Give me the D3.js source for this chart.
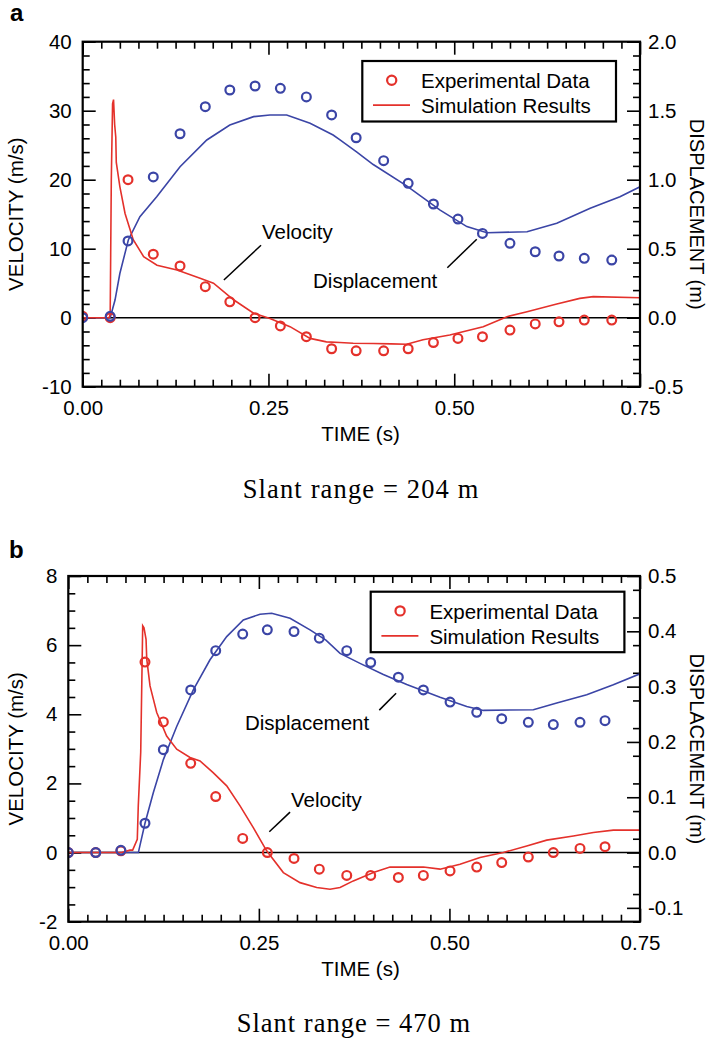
<!DOCTYPE html>
<html>
<head>
<meta charset="utf-8">
<script src="https://cdn.jsdelivr.net/npm/d3@7"></script>
<style>
  body { margin: 0; background: #fff; }
  svg { display: block; }
  text { font-family: "Liberation Sans", Arial, Helvetica, sans-serif; fill: #000; }
</style>
</head>
<body>
<svg id="fig" width="709" height="1045"></svg>
<script>
// ---------- shared ----------
const timeMajorTicks = [0, 0.25, 0.5, 0.75];
const legendLabels = ["Experimental Data", "Simulation Results"];

// ---------- panel a : slant range 204 m ----------
const aCaption = "Slant range = 204 m";
const aVelMajorTicks = [-10, 0, 10, 20, 30, 40];
const aDispMajorTicks = [-0.5, 0, 0.5, 1.0, 1.5, 2.0];
const aExpTime = [0, 0.037, 0.061, 0.095, 0.131, 0.165, 0.198, 0.232, 0.266, 0.301, 0.335,
                  0.368, 0.405, 0.438, 0.472, 0.505, 0.538, 0.575, 0.609, 0.641, 0.675, 0.712];
const aExpVelocity = [0.2, 0, 20.0, 9.2, 7.5, 4.5, 2.3, 0.0, -1.2, -2.75, -4.5,
                      -4.8, -4.8, -4.5, -3.6, -3.0, -2.75, -1.8, -0.9, -0.6, -0.35, -0.35];
const aExpDisplacement = [0, 0.01, 0.556, 1.02, 1.333, 1.529, 1.65, 1.679, 1.662, 1.60, 1.469,
                          1.304, 1.138, 0.974, 0.824, 0.715, 0.611, 0.539, 0.478, 0.447, 0.430, 0.418];
const aSimVelocity = [[0, 0], [0.0355, 0], [0.037, 0.5], [0.0385, 20], [0.0402, 31], [0.0415, 31.6],
  [0.043, 28], [0.0445, 26.2], [0.0452, 22.5], [0.050, 19], [0.057, 15.1], [0.068, 11.3],
  [0.082, 8.85], [0.100, 7.6], [0.127, 6.9], [0.158, 5.7], [0.176, 5.0], [0.203, 2.6],
  [0.230, 0.65], [0.252, -0.1], [0.279, -1.3], [0.306, -3.0], [0.328, -3.5], [0.346, -3.6],
  [0.364, -3.7], [0.391, -3.75], [0.415, -3.8], [0.436, -3.85], [0.458, -3.2], [0.494, -2.5],
  [0.539, -1.3], [0.571, 0.15], [0.598, 0.87], [0.638, 2.0], [0.669, 2.8], [0.687, 3.05], [0.75, 2.9]];
const aSimDisplacement = [[0, 0], [0.037, 0], [0.0435, 0.128], [0.050, 0.32], [0.0614, 0.563],
  [0.077, 0.732], [0.0996, 0.877], [0.131, 1.094], [0.167, 1.288], [0.198, 1.396], [0.230, 1.457],
  [0.252, 1.469], [0.2745, 1.469], [0.306, 1.409], [0.337, 1.324], [0.3463, 1.288], [0.369, 1.20],
  [0.391, 1.11], [0.436, 0.955], [0.481, 0.78], [0.517, 0.66], [0.544, 0.616], [0.598, 0.623],
  [0.638, 0.684], [0.683, 0.793], [0.723, 0.877], [0.75, 0.949]];

// ---------- panel b : slant range 470 m ----------
const bCaption = "Slant range = 470 m";
const bVelMajorTicks = [-2, 0, 2, 4, 6, 8];
const bDispMajorTicks = [-0.1, 0, 0.1, 0.2, 0.3, 0.4, 0.5];
const bExpTime = [0, 0.036, 0.069, 0.1006, 0.1247, 0.1606, 0.1934, 0.2288, 0.2611, 0.2961, 0.3293,
                  0.3653, 0.3967, 0.433, 0.4658, 0.5008, 0.5358, 0.5686, 0.6035, 0.6363, 0.6713, 0.7041];
const bExpVelocity = [0, 0, 0.05, 5.51, 3.78, 2.58, 1.62, 0.41, 0, -0.17, -0.48,
                      -0.66, -0.66, -0.72, -0.66, -0.53, -0.42, -0.29, -0.13, 0, 0.12, 0.17];
const bExpDisplacement = [0, 0, 0.004, 0.053, 0.186, 0.294, 0.365, 0.395, 0.4026, 0.3995, 0.3876,
                          0.365, 0.3436, 0.317, 0.294, 0.272, 0.2535, 0.242, 0.2355, 0.2313, 0.2355, 0.2385];
const bSimVelocity = [[0, 0], [0.070, 0], [0.0809, 0.07], [0.0844, 0.07], [0.0905, 0.38], [0.0918, 1.35],
  [0.095, 2.9], [0.0976, 6.56], [0.0993, 6.5], [0.102, 6.17], [0.1029, 5.6], [0.1072, 4.82],
  [0.116, 4.05], [0.129, 3.37], [0.1422, 2.99], [0.1597, 2.75], [0.1728, 2.65], [0.190, 2.31],
  [0.2078, 1.93], [0.2253, 1.35], [0.2427, 0.72], [0.2602, 0.05], [0.2821, -0.58], [0.304, -0.87],
  [0.3259, -1.01], [0.3433, -1.06], [0.3565, -1.01], [0.3739, -0.82], [0.4002, -0.58], [0.422, -0.42],
  [0.4658, -0.42], [0.4877, -0.48], [0.5139, -0.34], [0.5401, -0.14], [0.5707, 0], [0.6014, 0.19],
  [0.6276, 0.36], [0.6626, 0.48], [0.6888, 0.58], [0.715, 0.65], [0.75, 0.65]];
const bSimDisplacement = [[0, 0], [0.0919, 0], [0.1006, 0.053], [0.1115, 0.108], [0.1247, 0.168],
  [0.1422, 0.228], [0.164, 0.294], [0.1859, 0.3485], [0.2078, 0.3905], [0.2296, 0.4206],
  [0.2515, 0.431], [0.2668, 0.4327], [0.2909, 0.4237], [0.3171, 0.4026], [0.338, 0.384],
  [0.3565, 0.36], [0.3827, 0.342], [0.4133, 0.322], [0.444, 0.304], [0.4877, 0.281],
  [0.5227, 0.264], [0.5445, 0.257], [0.6101, 0.2583], [0.6408, 0.2704], [0.6801, 0.2854],
  [0.715, 0.3034], [0.75, 0.3232]];

// ---------- styling ----------
const RED = "#e4312b";
const BLUE = "#3b45a6";
const FONT = 20.5;
const MAJOR = 13, MINOR = 7;

const svg = d3.select("#fig");

function range(a, b, step) {
  const n = Math.round((b - a) / step);
  return d3.range(n + 1).map(i => +(a + i * step).toFixed(6));
}

function drawPanel(p) {
  const x = d3.scaleLinear().domain([0, 0.75]).range([p.left, p.right]);
  const yV = d3.scaleLinear().domain(p.velDomain).range([p.bottom, p.top]);
  const yD = d3.scaleLinear().domain(p.dispDomain).range([p.bottom, p.top]);
  const g = svg.append("g");
  const clipId = "clip-" + p.key;
  svg.append("clipPath").attr("id", clipId).append("rect")
    .attr("x", p.left).attr("y", p.top).attr("width", p.right - p.left).attr("height", p.bottom - p.top);

  const style = sel => {
    sel.select(".domain").remove();
    sel.attr("font-family", null).attr("font-size", null);
    sel.selectAll(".tick line").attr("stroke", "#000").attr("stroke-width", 1.6);
    sel.selectAll(".tick text").attr("font-size", FONT);
  };
  const minorX = range(0, 0.75, 0.025).filter(v => !timeMajorTicks.some(m => Math.abs(m - v) < 1e-6));
  const fmtX = d => d.toFixed(2);

  // x axes (bottom with labels, top ticks only) — ticks point inward
  g.append("g").attr("transform", `translate(0,${p.bottom})`)
    .call(d3.axisBottom(x).tickValues(minorX).tickSize(-MINOR).tickFormat("")).call(style);
  g.append("g").attr("transform", `translate(0,${p.bottom})`)
    .call(d3.axisBottom(x).tickValues(timeMajorTicks).tickSize(-MAJOR).tickPadding(14).tickFormat(fmtX)).call(style);
  g.append("g").attr("transform", `translate(0,${p.top})`)
    .call(d3.axisTop(x).tickValues(minorX).tickSize(-MINOR).tickFormat("")).call(style);
  g.append("g").attr("transform", `translate(0,${p.top})`)
    .call(d3.axisTop(x).tickValues(timeMajorTicks).tickSize(-MAJOR).tickFormat("")).call(style);

  // velocity axis (left)
  const vMinor = range(p.velDomain[0], p.velDomain[1], p.velMinorStep)
    .filter(v => !p.velTicks.some(m => Math.abs(m - v) < 1e-6));
  g.append("g").attr("transform", `translate(${p.left},0)`)
    .call(d3.axisLeft(yV).tickValues(vMinor).tickSize(-MINOR).tickFormat("")).call(style);
  g.append("g").attr("transform", `translate(${p.left},0)`)
    .call(d3.axisLeft(yV).tickValues(p.velTicks).tickSize(-MAJOR).tickPadding(11).tickFormat(d => String(d))).call(style);

  // displacement axis (right)
  const dMinor = range(p.dispDomain[0], p.dispDomain[1], p.dispMinorStep)
    .filter(v => !p.dispTicks.some(m => Math.abs(m - v) < 1e-6))
    .filter(v => v >= p.dispDomain[0] - 1e-9 && v <= p.dispDomain[1] + 1e-9);
  g.append("g").attr("transform", `translate(${p.right},0)`)
    .call(d3.axisRight(yD).tickValues(dMinor).tickSize(-MINOR).tickFormat("")).call(style);
  g.append("g").attr("transform", `translate(${p.right},0)`)
    .call(d3.axisRight(yD).tickValues(p.dispTicks).tickSize(-MAJOR).tickPadding(8).tickFormat(d => d.toFixed(1))).call(style);

  // zero reference line
  g.append("line").attr("x1", p.left).attr("x2", p.right)
    .attr("y1", yV(0)).attr("y2", yV(0)).attr("stroke", "#000").attr("stroke-width", 1.6);

  // simulation curves
  const plot = g.append("g").attr("clip-path", `url(#${clipId})`);
  plot.append("path").datum(p.simDisp)
    .attr("d", d3.line().x(d => x(d[0])).y(d => yD(d[1])))
    .attr("fill", "none").attr("stroke", BLUE).attr("stroke-width", 1.6);
  plot.append("path").datum(p.simVel)
    .attr("d", d3.line().x(d => x(d[0])).y(d => yV(d[1])))
    .attr("fill", "none").attr("stroke", RED).attr("stroke-width", 1.6);

  // experimental data
  plot.append("g").selectAll("circle").data(p.expTime.map((t, i) => [t, p.expVel[i]])).join("circle")
    .attr("cx", d => x(d[0])).attr("cy", d => yV(d[1])).attr("r", 4.4)
    .attr("fill", "none").attr("stroke", RED).attr("stroke-width", 2.2);
  plot.append("g").selectAll("circle").data(p.expTime.map((t, i) => [t, p.expDisp[i]])).join("circle")
    .attr("cx", d => x(d[0])).attr("cy", d => yD(d[1])).attr("r", 4.4)
    .attr("fill", "none").attr("stroke", BLUE).attr("stroke-width", 2.2);

  // frame
  g.append("rect").attr("x", p.left).attr("y", p.top)
    .attr("width", p.right - p.left).attr("height", p.bottom - p.top)
    .attr("fill", "none").attr("stroke", "#000").attr("stroke-width", 2.2);

  // curve annotations with leader lines (positioned in data units)
  p.notes.forEach(n => {
    g.append("text").attr("x", x(n.at[0])).attr("y", yV(n.at[1]))
      .attr("font-size", FONT).text(n.label);
    g.append("line")
      .attr("x1", x(n.from[0])).attr("y1", yV(n.from[1]))
      .attr("x2", x(n.to[0])).attr("y2", yV(n.to[1]))
      .attr("stroke", "#000").attr("stroke-width", 1.5);
  });

  // legend
  const lx = p.left + p.legend[0], ly = p.top + p.legend[1];
  const lg = g.append("g").attr("transform", `translate(${lx},${ly})`);
  lg.append("rect").attr("width", 253.7).attr("height", 60.5)
    .attr("fill", "#fff").attr("stroke", "#000").attr("stroke-width", 2.2);
  lg.append("circle").attr("cx", 29.4).attr("cy", 19.2).attr("r", 4.6)
    .attr("fill", "none").attr("stroke", RED).attr("stroke-width", 2.2);
  lg.append("line").attr("x1", 10.7).attr("x2", 47.7).attr("y1", 44.2).attr("y2", 44.2)
    .attr("stroke", RED).attr("stroke-width", 1.8);
  lg.append("text").attr("x", 58.7).attr("y", 27).attr("font-size", FONT).text(legendLabels[0]);
  lg.append("text").attr("x", 58.7).attr("y", 52.2).attr("font-size", FONT).text(legendLabels[1]);

  // axis titles
  g.append("text").attr("transform", `translate(23,${(p.top + p.bottom) / 2}) rotate(-90)`)
    .attr("text-anchor", "middle").attr("font-size", FONT).text("VELOCITY (m/s)");
  g.append("text").attr("transform", `translate(690,${(p.top + p.bottom) / 2}) rotate(90)`)
    .attr("text-anchor", "middle").attr("font-size", 20).text("DISPLACEMENT (m)");
  g.append("text").attr("x", 360.5).attr("y", p.bottom + 54.3)
    .attr("text-anchor", "middle").attr("font-size", FONT).text("TIME (s)");

  // panel letter and caption
  g.append("text").attr("x", p.letterPos[0]).attr("y", p.letterPos[1])
    .attr("font-size", 24).attr("font-weight", "bold").text(p.key);
  g.append("text").attr("x", p.caption.x).attr("y", p.caption.y)
    .style("font-family", "'Liberation Serif', 'Times New Roman', serif")
    .attr("font-size", 26.5).attr("textLength", p.caption.w).attr("lengthAdjust", "spacing")
    .text(p.caption.text);
}

drawPanel({
  key: "a", left: 82.7, right: 640, top: 41.7, bottom: 386.7,
  velDomain: [-10, 40], dispDomain: [-0.5, 2.0], velTicks: aVelMajorTicks, dispTicks: aDispMajorTicks,
  velMinorStep: 2, dispMinorStep: 0.1,
  expTime: aExpTime, expVel: aExpVelocity, expDisp: aExpDisplacement,
  simVel: aSimVelocity, simDisp: aSimDisplacement,
  notes: [
    { label: "Velocity", at: [0.2413, 11.4], from: [0.190, 5.46], to: [0.240, 10.5] },
    { label: "Displacement", at: [0.310, 4.3], from: [0.4907, 7.25], to: [0.5303, 11.36] }
  ],
  legend: [279.6, 19.3],
  letterPos: [10, 21],
  caption: { text: aCaption, x: 242.7, y: 498.3, w: 235.6 }
});

drawPanel({
  key: "b", left: 68.3, right: 640, top: 576, bottom: 921.7,
  velDomain: [-2, 8], dispDomain: [-0.125, 0.5], velTicks: bVelMajorTicks, dispTicks: bDispMajorTicks,
  velMinorStep: 0.5, dispMinorStep: 0.05,
  expTime: bExpTime, expVel: bExpVelocity, expDisp: bExpDisplacement,
  simVel: bSimVelocity, simDisp: bSimDisplacement,
  notes: [
    { label: "Displacement", at: [0.2318, 3.55], from: [0.408, 4.12], to: [0.430, 4.61] },
    { label: "Velocity", at: [0.2922, 1.33], from: [0.2637, 0.6], to: [0.2909, 1.17] }
  ],
  legend: [302.4, 15.7],
  letterPos: [9, 558],
  caption: { text: bCaption, x: 236.7, y: 1032.3, w: 233.3 }
});
</script>
</body>
</html>
